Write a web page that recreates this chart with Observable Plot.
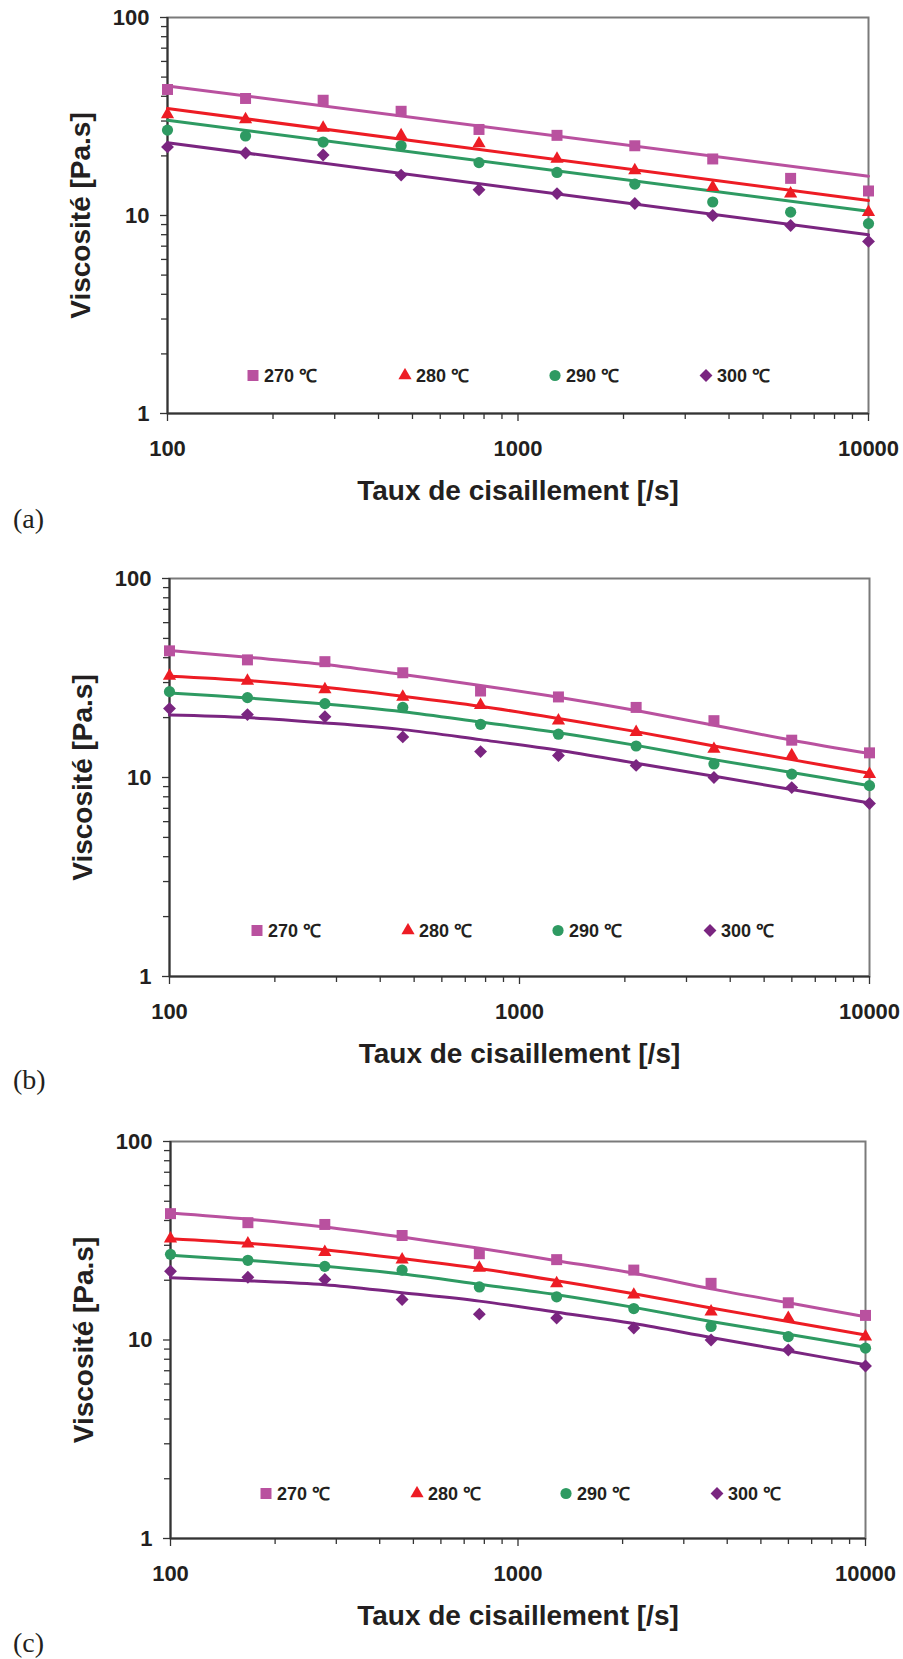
<!DOCTYPE html>
<html><head><meta charset="utf-8">
<script src="https://cdn.jsdelivr.net/npm/d3@7"></script>
<script src="https://cdn.jsdelivr.net/npm/@observablehq/plot@0.6"></script>
<style>
html,body{margin:0;padding:0;background:#fff;}
body{width:903px;height:1659px;overflow:hidden;font-family:'Liberation Sans',Arial,sans-serif;color:#231f20;}
.panel{position:relative;width:903px;}
.panel svg{display:block;}
.tag{position:absolute;left:13px;top:505px;font:28px/1 'Liberation Serif','Times New Roman',serif;color:#231f20;}
.leg{position:absolute;display:flex;align-items:center;gap:4px;font-weight:bold;font-size:18px;height:20px;white-space:nowrap;color:#231f20;}
.leg svg{display:block;}
g[aria-label="x-axis label"], g[aria-label="y-axis label"]{font-size:28px;}
</style></head><body><div id="root"></div>
<script>
// ---- data ----
const shearRate = [100, 167, 278, 464, 774, 1292, 2154, 3594, 5995, 10000];
const temps = ["270 ℃", "280 ℃", "290 ℃", "300 ℃"];
const visc270 = [43.3, 39.0, 38.2, 33.6, 27.2, 25.4, 22.5, 19.3, 15.4, 13.3];
const visc280 = [32.4, 30.6, 27.7, 25.4, 23.1, 19.3, 16.9, 13.9, 12.9, 10.4];
const visc290 = [27.0, 25.2, 23.5, 22.5, 18.5, 16.5, 14.4, 11.7, 10.4, 9.1];
const visc300 = [22.2, 20.7, 20.2, 16.0, 13.5, 12.9, 11.5, 10.0, 8.9, 7.4];

// (a) power-law fit (straight in log-log): values at the ends of the range
const fitRateA = [100, 10000];
const fitA270 = [45.1, 15.8];
const fitA280 = [34.7, 11.9];
const fitA290 = [30.3, 10.5];
const fitA300 = [23.3, 8.0];

// (b) model fit read at each shear rate
const fitB270 = [43.5, 40.2, 37.0, 32.9, 29.0, 25.3, 21.7, 18.3, 15.4, 13.2];
const fitB280 = [32.3, 30.7, 28.4, 25.6, 22.8, 19.8, 17.0, 14.4, 12.3, 10.5];
const fitB290 = [26.6, 25.1, 23.4, 21.4, 19.0, 16.8, 14.5, 12.3, 10.6, 9.1];
const fitB300 = [20.6, 20.0, 18.8, 17.4, 15.5, 13.7, 11.8, 10.15, 8.7, 7.45];

// (c) model fit read at each shear rate
const fitC270 = [43.6, 40.6, 37.1, 33.0, 29.0, 25.1, 21.7, 18.1, 15.4, 13.1];
const fitC280 = [32.4, 30.7, 28.5, 25.7, 22.9, 19.9, 17.1, 14.5, 12.4, 10.6];
const fitC290 = [26.7, 25.2, 23.5, 21.5, 19.1, 16.9, 14.6, 12.4, 10.7, 9.2];
const fitC300 = [20.6, 19.9, 19.0, 17.3, 15.7, 13.8, 12.1, 10.3, 8.8, 7.5];

const yMajorTicks = [1, 10, 100];
const yMinorTicks = [2, 3, 4, 5, 6, 7, 8, 9, 20, 30, 40, 50, 60, 70, 80, 90];
const xMajorTicks = [100, 1000, 10000];
const xMinorTicks = [200, 300, 400, 500, 600, 700, 800, 900, 2000, 3000, 4000, 5000, 6000, 7000, 8000, 9000];

const colors = ["#b9519f", "#ed1c24", "#2e9a62", "#7a2580"];
const symbols = ["square", "triangle", "circle", "diamond2"];
const radii = [6.2, 4.9, 5.6, 5.8];
const panelTags = ["(a)", "(b)", "(c)"];

// ---- build ----
const viscSeries = [visc270, visc280, visc290, visc300];
const points = temps.flatMap((t, k) => shearRate.map((r, i) => ({rate: r, visc: viscSeries[k][i], k})));

const panels = [
  {fitX: fitRateA, fits: [fitA270, fitA280, fitA290, fitA300], curve: "linear",
   mL: 167, mR: 35, plotH: 396, boxH: 561, leg: {y: 375, x: [253, 405, 555, 706]}},
  {fitX: shearRate, fits: [fitB270, fitB280, fitB290, fitB300], curve: "catmull-rom",
   mL: 169, mR: 34, plotH: 398, boxH: 563, leg: {y: 369, x: [257, 408, 558, 710]}},
  {fitX: shearRate, fits: [fitC270, fitC280, fitC290, fitC300], curve: "catmull-rom",
   mL: 170, mR: 38, plotH: 397, boxH: 535, leg: {y: 369, x: [266, 417, 566, 717]}}
];

const root = document.getElementById("root");
const axisColor = "#333";

panels.forEach((p, pi) => {
  const box = document.createElement("div");
  box.className = "panel";
  box.style.height = p.boxH + "px";
  root.appendChild(box);

  const fitRows = p.fits.flatMap((f, k) => p.fitX.map((r, i) => ({rate: r, visc: f[i], k})));

  const marks = [
    Plot.frame({stroke: "#7a7a7a", strokeWidth: 2}),
    Plot.ruleX([100], {stroke: axisColor, strokeWidth: 2}),
    Plot.ruleY([1], {stroke: axisColor, strokeWidth: 2}),
    Plot.axisY(yMinorTicks, {tickSize: 6, tickFormat: () => "", stroke: axisColor, strokeWidth: 1.3, label: null}),
    Plot.axisY(yMajorTicks, {tickSize: 7, tickPadding: 11, tickFormat: d => String(d), stroke: axisColor, strokeWidth: 1.3,
      label: "Viscosité [Pa.s]", labelAnchor: "center", labelArrow: "none", labelOffset: 97}),
    Plot.axisX(xMinorTicks, {tickSize: 6, tickFormat: () => "", stroke: axisColor, strokeWidth: 1.3, label: null}),
    Plot.axisX(xMajorTicks, {tickSize: 8, tickPadding: 19, tickFormat: d => String(d), stroke: axisColor, strokeWidth: 1.3,
      label: "Taux de cisaillement [/s]", labelAnchor: "center", labelArrow: "none", labelOffset: 86})
  ];
  temps.forEach((t, k) => {
    marks.push(Plot.line(fitRows.filter(d => d.k === k), {x: "rate", y: "visc", stroke: colors[k], strokeWidth: 3, curve: p.curve}));
  });
  temps.forEach((t, k) => {
    marks.push(Plot.dot(points.filter(d => d.k === k), {x: "rate", y: "visc", symbol: symbols[k], fill: colors[k], r: radii[k], stroke: "none"}));
  });

  const chart = Plot.plot({
    width: 903,
    height: 17 + p.plotH + 100,
    marginTop: 17,
    marginBottom: 100,
    marginLeft: p.mL,
    marginRight: p.mR,
    x: {type: "log", domain: [100, 10000]},
    y: {type: "log", domain: [1, 100]},
    style: {fontFamily: "'Liberation Sans', Arial, sans-serif", fontSize: "22px", fontWeight: "bold", color: "#231f20", background: "white", overflow: "visible"},
    marks
  });
  box.appendChild(chart);

  // legend (inside the plot area)
  temps.forEach((t, k) => {
    const item = document.createElement("div");
    item.className = "leg";
    item.style.left = (p.leg.x[k] - 7) + "px";
    item.style.top = (p.leg.y - 10) + "px";
    const svg = d3.create("svg").attr("width", 14).attr("height", 14);
    const symType = {square: d3.symbolSquare, triangle: d3.symbolTriangle, circle: d3.symbolCircle, diamond2: d3.symbolDiamond2}[symbols[k]];
    svg.append("path")
      .attr("transform", "translate(7,7.5)")
      .attr("d", d3.symbol(symType, Math.PI * radii[k] * radii[k])())
      .attr("fill", colors[k]);
    item.appendChild(svg.node());
    const span = document.createElement("span");
    span.textContent = t;
    item.appendChild(span);
    box.appendChild(item);
  });

  const tag = document.createElement("div");
  tag.className = "tag";
  tag.textContent = panelTags[pi];
  box.appendChild(tag);
});
</script>
</body></html>
